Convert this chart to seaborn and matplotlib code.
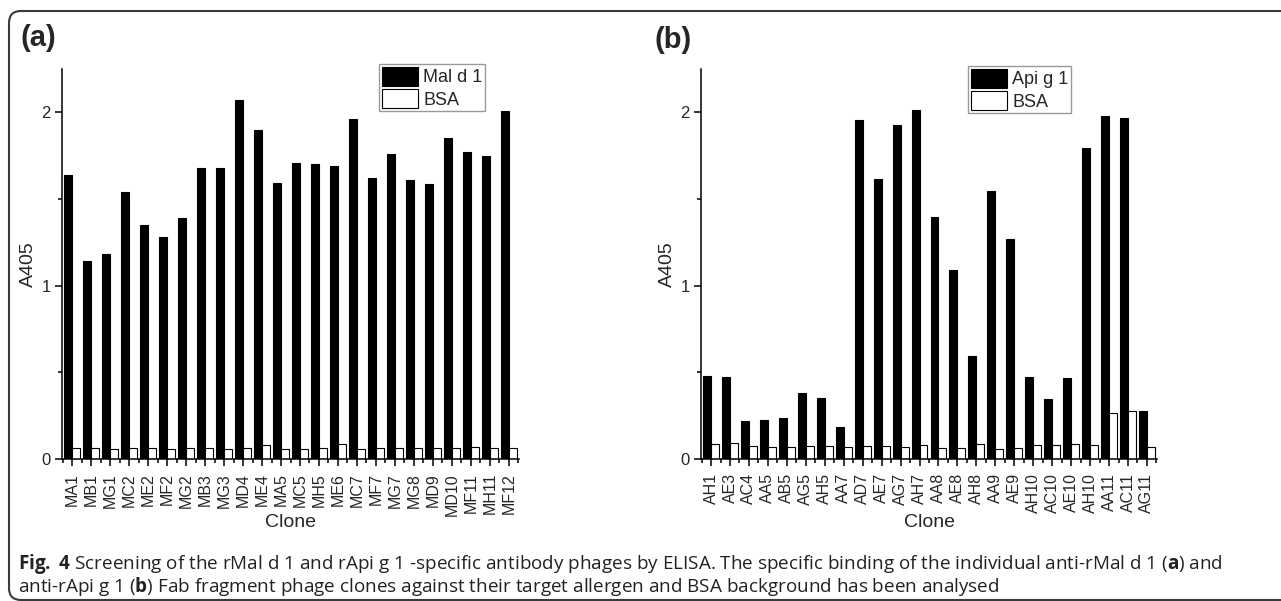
import numpy as np
import pandas as pd
import matplotlib
matplotlib.use("Agg")
import matplotlib.pyplot as plt
import seaborn as sns
from matplotlib.patches import FancyBboxPatch
from matplotlib.transforms import IdentityTransform
from matplotlib.ticker import MultipleLocator, FixedLocator

# ---------------- data ----------------
clones_a = ["MA1", "MB1", "MG1", "MC2", "ME2", "MF2", "MG2", "MB3", "MG3", "MD4",
            "ME4", "MA5", "MC5", "MH5", "ME6", "MC7", "MF7", "MG7", "MG8", "MD9",
            "MD10", "MF11", "MH11", "MF12"]
mald1 = [1.64, 1.14, 1.18, 1.54, 1.35, 1.28, 1.39, 1.68, 1.68, 2.07,
         1.90, 1.59, 1.71, 1.70, 1.69, 1.96, 1.62, 1.76, 1.61, 1.585,
         1.85, 1.77, 1.75, 2.01]
bsa_a = [0.062, 0.062, 0.060, 0.062, 0.062, 0.060, 0.062, 0.062, 0.060, 0.065,
         0.080, 0.060, 0.060, 0.062, 0.086, 0.060, 0.062, 0.062, 0.062, 0.062,
         0.062, 0.069, 0.062, 0.062]

clones_b = ["AH1", "AE3", "AC4", "AA5", "AB5", "AG5", "AH5", "AA7", "AD7", "AE7",
            "AG7", "AH7", "AA8", "AE8", "AH8", "AA9", "AE9", "AH10", "AC10", "AE10",
            "AH10", "AA11", "AC11", "AG11"]
apig1 = [0.48, 0.473, 0.221, 0.225, 0.238, 0.379, 0.353, 0.184, 1.955, 1.616,
         1.927, 2.013, 1.397, 1.088, 0.595, 1.549, 1.27, 0.474, 0.348, 0.465,
         1.797, 1.979, 1.965, 0.275]
bsa_b = [0.085, 0.092, 0.073, 0.069, 0.067, 0.075, 0.075, 0.067, 0.075, 0.077,
         0.069, 0.081, 0.061, 0.063, 0.086, 0.059, 0.063, 0.081, 0.083, 0.086,
         0.081, 0.263, 0.277, 0.069]

caption1 = (r"$\mathbf{Fig.}$ $\mathbf{4}$ Screening of the rMal d 1 and rApi g 1 -specific antibody phages by ELISA. "
            r"The specific binding of the individual anti-rMal d 1 ($\mathbf{a}$) and")
caption2 = (r"anti-rApi g 1 ($\mathbf{b}$) Fab fragment phage clones against their target allergen "
            r"and BSA background has been analysed")

# ---------------- style ----------------
sns.set_theme(style="ticks")
plt.rcParams["font.family"] = ["Liberation Sans", "DejaVu Sans"]
plt.rcParams["mathtext.fontset"] = "custom"
plt.rcParams["mathtext.rm"] = "Open Sans"
plt.rcParams["mathtext.bf"] = "Open Sans:bold"

W, H = 1281, 601
fig = plt.figure(figsize=(W / 100, H / 100), dpi=100)
fig.patch.set_facecolor("white")

y0_px, y1_px = 459, 69
axa = fig.add_axes([62 / W, (H - y0_px) / H, (519 - 62) / W, (y0_px - y1_px) / H])
axb = fig.add_axes([701 / W, (H - y0_px) / H, (1157 - 701) / W, (y0_px - y1_px) / H])


def panel(ax, clones, vals, bsa, name, leg_anchor):
    n = len(clones)
    df = pd.DataFrame({
        "pos": list(range(n)) * 2,
        "val": list(vals) + list(bsa),
        "series": [name] * n + ["BSA"] * n,
    })
    sns.barplot(data=df, x="pos", y="val", hue="series", hue_order=[name, "BSA"],
                palette=["black", "white"], saturation=1, width=0.84, gap=0,
                edgecolor="black", linewidth=0.8, errorbar=None, ax=ax)
    ax.set_xlim(-0.53, n - 0.47)
    ax.set_ylim(0, 2.25)
    ax.set_xticks(range(n))
    ax.set_xticklabels(clones, rotation=90, fontsize=11.5)
    ax.xaxis.set_minor_locator(FixedLocator(np.arange(-0.5, n, 1.0)))
    ax.set_yticks([0, 1, 2])
    ax.set_yticklabels(["0", "1", "2"], fontsize=12)
    ax.yaxis.set_minor_locator(MultipleLocator(0.5))
    ax.tick_params(axis="both", which="major", direction="out", length=5, width=1.1,
                   color="black", pad=3)
    ax.tick_params(axis="both", which="minor", direction="out", length=3, width=1.1,
                   color="black")
    ax.tick_params(axis="x", which="major", pad=5)
    for s in ["top", "right"]:
        ax.spines[s].set_visible(False)
    for s in ["left", "bottom"]:
        ax.spines[s].set_linewidth(1.1)
        ax.spines[s].set_color("black")
    ax.set_xlabel("Clone", fontsize=14)
    ax.set_ylabel("A405", fontsize=14)
    ax.xaxis.set_label_coords(0.5, -0.142)
    ax.yaxis.set_label_coords(-0.055, 0.5)
    handles, labels = ax.get_legend_handles_labels()
    leg = ax.legend(handles, labels, loc="upper left", bbox_to_anchor=leg_anchor,
                    borderaxespad=0, frameon=True, fancybox=False, fontsize=13,
                    handlelength=2.0, handleheight=1.25, labelspacing=0.15,
                    handletextpad=0.3, borderpad=0.15)
    leg.get_frame().set_edgecolor("#808080")
    leg.get_frame().set_linewidth(1)


panel(axa, clones_a, mald1, bsa_a, "Mal d 1", (0.694, 1.013))
panel(axb, clones_b, apig1, bsa_b, "Api g 1", (0.586, 1.008))

fig.text(21 / W, 1 - 24 / H, "(a)", fontsize=21, fontweight="bold", va="top", ha="left")
fig.text(655 / W, 1 - 26 / H, "(b)", fontsize=21, fontweight="bold", va="top", ha="left")

# outer rounded frame
frame = FancyBboxPatch((9, 1), 1320, H - 11 - 1, boxstyle="round,pad=0,rounding_size=12",
                       transform=IdentityTransform(), facecolor="none",
                       edgecolor="#3a3a3a", linewidth=1.5)
fig.add_artist(frame)

# caption
fig.text(18 / W, (H - 569) / H, caption1, fontsize=13.6, fontfamily="Open Sans",
         va="baseline", ha="left", color="#222222")
fig.text(18 / W, (H - 592) / H, caption2, fontsize=13.6, fontfamily="Open Sans",
         va="baseline", ha="left", color="#222222")

fig.savefig("out.png", dpi=100)
